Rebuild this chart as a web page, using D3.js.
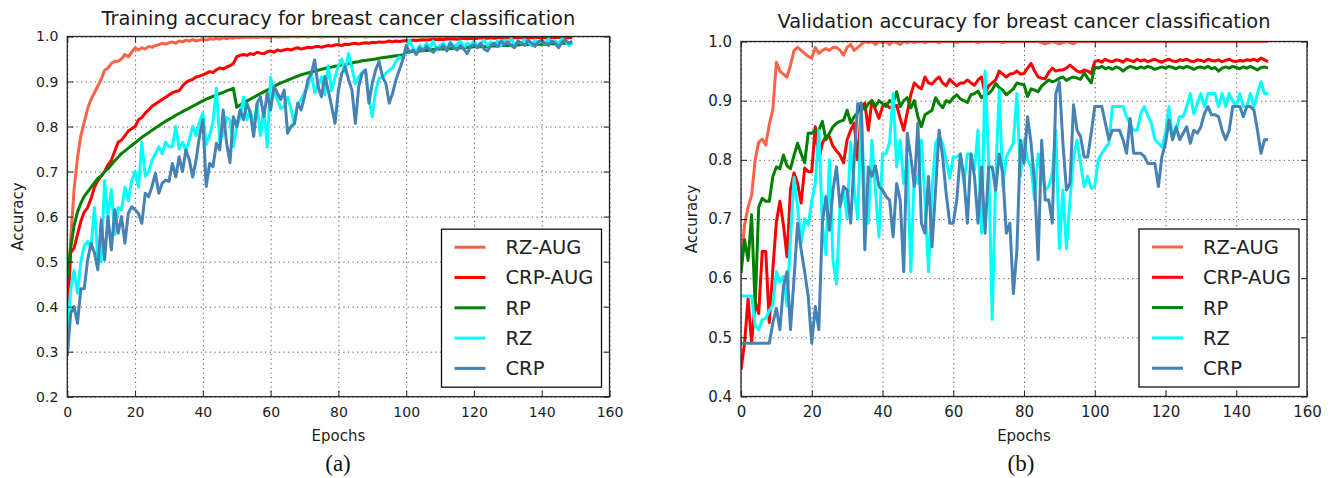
<!DOCTYPE html>
<html>
<head>
<meta charset="utf-8">
<script src="https://cdn.jsdelivr.net/npm/d3@7"></script>
<style>
  html, body { margin: 0; padding: 0; background: #fff; }
  svg { display: block; font-family: "DejaVu Sans", sans-serif; }
  .grid line { stroke: #555; stroke-width: 1; stroke-dasharray: 1.2, 3.4; }
  .grid .domain { display: none; }
  .axis .domain { display: none; }
  .axis line { stroke: #222; stroke-width: 1; }
  .axis text { fill: #222; font-family: "DejaVu Sans", sans-serif; }
</style>
</head>
<body>
<svg id="chart" width="1334" height="478"></svg>
<script>
/* ==========================================================================
   Training / validation accuracy, two panels, five runs each
   ========================================================================== */
const SERIES = ['RZ-AUG', 'CRP-AUG', 'RP', 'RZ', 'CRP'];
const COLORS = ['#ff6347', '#ff0000', '#008000', '#00ffff', '#4682b4'];
const X_TICKS = [0, 20, 40, 60, 80, 100, 120, 140, 160];
const Y_TICKS_TRAIN = [0.2, 0.3, 0.4, 0.5, 0.6, 0.7, 0.8, 0.9, 1.0];
const Y_TICKS_VAL = [0.4, 0.5, 0.6, 0.7, 0.8, 0.9, 1.0];

// ---- training accuracy, one value per epoch (0..149)
const trainRzAug = [
  0.40,0.55,0.66,0.73,0.78,0.81,0.84,0.86,0.875,0.89,
  0.905,0.925,0.93,0.94,0.945,0.945,0.95,0.96,0.955,0.965,
  0.975,0.97,0.975,0.972,0.978,0.976,0.98,0.982,0.985,0.983,
  0.986,0.988,0.985,0.99,0.988,0.992,0.99,0.993,0.99,0.992,
  0.994,0.992,0.995,0.994,0.996,0.994,0.997,0.995,0.997,0.996,
  0.998,0.997,0.998,0.999,0.998,0.999,0.998,0.999,0.999,0.998,
  0.999,1.0,0.999,0.999,1.0,0.999,1.0,1.0,0.999,1.0,
  1.0,0.999,1.0,1.0,1.0,0.999,1.0,1.0,1.0,1.0,
  1.0,1.0,0.999,1.0,1.0,1.0,1.0,1.0,0.999,1.0,
  1.0,1.0,1.0,1.0,1.0,1.0,1.0,1.0,1.0,1.0,
  1.0,1.0,1.0,1.0,1.0,1.0,1.0,1.0,1.0,1.0,
  1.0,1.0,1.0,1.0,1.0,1.0,1.0,1.0,1.0,1.0,
  1.0,1.0,1.0,1.0,1.0,1.0,1.0,1.0,1.0,1.0,
  1.0,1.0,1.0,1.0,1.0,1.0,1.0,1.0,1.0,1.0,
  1.0,1.0,1.0,1.0,1.0,1.0,1.0,1.0,1.0,1.0
];
const trainCrpAug = [
  0.37,0.52,0.53,0.56,0.59,0.61,0.62,0.64,0.665,0.68,
  0.69,0.70,0.715,0.725,0.745,0.765,0.77,0.78,0.79,0.795,
  0.80,0.815,0.82,0.83,0.837,0.845,0.85,0.855,0.86,0.865,
  0.87,0.875,0.878,0.88,0.89,0.898,0.902,0.905,0.91,0.912,
  0.915,0.918,0.922,0.92,0.926,0.93,0.928,0.932,0.935,0.94,
  0.955,0.958,0.96,0.958,0.962,0.96,0.965,0.963,0.962,0.966,
  0.968,0.965,0.97,0.968,0.97,0.972,0.97,0.973,0.975,0.972,
  0.974,0.976,0.975,0.977,0.978,0.976,0.978,0.98,0.979,0.981,
  0.982,0.98,0.983,0.982,0.984,0.985,0.983,0.985,0.986,0.985,
  0.987,0.986,0.988,0.987,0.988,0.99,0.988,0.99,0.989,0.99,
  0.991,0.99,0.992,0.991,0.992,0.993,0.992,0.993,0.994,0.993,
  0.994,0.993,0.995,0.994,0.995,0.994,0.995,0.996,0.995,0.996,
  0.995,0.996,0.997,0.996,0.996,0.997,0.996,0.997,0.997,0.996,
  0.997,0.997,0.998,0.997,0.997,0.998,0.997,0.998,0.997,0.998,
  0.998,0.997,0.998,0.998,0.997,0.998,0.998,0.998,0.997,0.998
];
const trainRp = [
  0.46,0.53,0.58,0.61,0.63,0.645,0.655,0.665,0.675,0.685,
  0.69,0.70,0.706,0.715,0.724,0.732,0.74,0.746,0.752,0.758,
  0.764,0.77,0.776,0.781,0.786,0.792,0.797,0.802,0.807,0.812,
  0.816,0.82,0.825,0.829,0.833,0.837,0.841,0.845,0.849,0.853,
  0.857,0.861,0.864,0.867,0.87,0.873,0.876,0.879,0.882,0.885,
  0.843,0.848,0.853,0.857,0.861,0.865,0.869,0.873,0.877,0.881,
  0.885,0.889,0.893,0.897,0.9,0.903,0.906,0.909,0.912,0.915,
  0.917,0.919,0.921,0.923,0.925,0.927,0.929,0.931,0.932,0.934,
  0.935,0.937,0.938,0.94,0.941,0.943,0.944,0.946,0.947,0.948,
  0.949,0.95,0.952,0.953,0.954,0.955,0.956,0.957,0.958,0.959,
  0.965,0.966,0.967,0.967,0.968,0.969,0.969,0.97,0.971,0.971,
  0.972,0.972,0.973,0.973,0.974,0.974,0.975,0.975,0.976,0.976,
  0.977,0.977,0.977,0.978,0.978,0.979,0.979,0.979,0.98,0.98,
  0.98,0.981,0.981,0.981,0.982,0.982,0.982,0.982,0.983,0.983,
  0.983,0.983,0.984,0.984,0.984,0.984,0.985,0.985,0.985,0.985
];
const trainRz = [
  0.33,0.44,0.48,0.43,0.50,0.535,0.545,0.53,0.62,0.51,
  0.50,0.68,0.60,0.66,0.56,0.62,0.615,0.665,0.635,0.68,
  0.70,0.665,0.765,0.69,0.70,0.725,0.74,0.755,0.74,0.765,
  0.755,0.755,0.80,0.75,0.765,0.745,0.77,0.80,0.78,0.81,
  0.83,0.76,0.78,0.81,0.885,0.765,0.785,0.82,0.815,0.755,
  0.80,0.82,0.865,0.815,0.835,0.80,0.85,0.78,0.84,0.755,
  0.91,0.875,0.86,0.84,0.845,0.865,0.84,0.805,0.85,0.86,
  0.875,0.89,0.92,0.875,0.89,0.91,0.87,0.935,0.88,0.91,
  0.935,0.95,0.92,0.962,0.93,0.895,0.91,0.92,0.925,0.865,
  0.822,0.88,0.907,0.91,0.918,0.925,0.93,0.945,0.955,0.95,
  0.975,0.992,0.975,0.965,0.98,0.97,0.985,0.975,0.99,0.97,
  0.98,0.985,0.972,0.988,0.978,0.982,0.99,0.975,0.985,0.98,
  0.99,0.978,0.985,0.992,0.98,0.988,0.983,0.99,0.98,0.992,
  0.985,0.995,0.982,0.99,0.985,0.993,0.988,0.98,0.992,0.986,
  0.99,0.984,0.995,0.988,0.99,0.985,0.995,0.99,0.98,0.985
];
const trainCrp = [
  0.29,0.385,0.40,0.363,0.44,0.44,0.504,0.54,0.52,0.482,
  0.593,0.504,0.60,0.526,0.615,0.563,0.60,0.541,0.607,0.622,
  0.615,0.607,0.585,0.652,0.644,0.667,0.696,0.652,0.674,0.681,
  0.678,0.718,0.688,0.733,0.70,0.748,0.726,0.688,0.726,0.778,
  0.815,0.667,0.718,0.711,0.763,0.748,0.837,0.763,0.72,0.822,
  0.80,0.837,0.815,0.852,0.83,0.778,0.852,0.866,0.822,0.874,
  0.837,0.889,0.874,0.86,0.881,0.785,0.80,0.807,0.852,0.837,
  0.866,0.904,0.918,0.948,0.889,0.866,0.911,0.881,0.845,0.807,
  0.881,0.918,0.933,0.904,0.881,0.807,0.889,0.918,0.926,0.852,
  0.896,0.926,0.945,0.911,0.896,0.852,0.874,0.904,0.926,0.948,
  0.98,0.965,0.97,0.96,0.975,0.968,0.978,0.97,0.965,0.975,
  0.972,0.98,0.968,0.985,0.975,0.97,0.98,0.972,0.962,0.978,
  0.982,0.975,0.985,0.972,0.968,0.98,0.985,0.978,0.99,0.982,
  0.988,0.98,0.975,0.99,0.985,0.98,0.992,0.985,0.978,0.988,
  0.992,0.985,0.98,0.99,0.985,0.975,0.988,0.992,0.985,0.99
];

// ---- validation accuracy, one value per epoch (0..149)
const valRzAug = [
  0.62,0.69,0.72,0.74,0.80,0.83,0.835,0.825,0.86,0.885,
  0.965,0.95,0.945,0.94,0.96,0.985,0.99,0.985,0.98,0.975,
  0.972,0.99,0.98,0.985,0.988,0.985,0.99,0.99,0.985,0.977,
  0.99,0.995,0.985,0.99,0.995,1.0,0.998,1.0,0.995,1.0,
  0.998,1.0,0.995,1.0,0.998,0.995,1.0,0.998,1.0,0.998,
  1.0,1.0,0.998,1.0,1.0,1.0,0.998,1.0,1.0,1.0,
  1.0,0.998,1.0,1.0,1.0,1.0,1.0,0.998,1.0,1.0,
  1.0,1.0,1.0,1.0,0.998,1.0,1.0,1.0,1.0,1.0,
  1.0,1.0,1.0,1.0,1.0,0.998,0.996,0.998,1.0,0.998,
  0.996,0.998,1.0,0.998,0.996,1.0,1.0,1.0,1.0,1.0,
  1.0,1.0,1.0,1.0,1.0,1.0,1.0,1.0,1.0,1.0,
  1.0,1.0,1.0,1.0,1.0,1.0,1.0,1.0,1.0,1.0,
  1.0,1.0,1.0,1.0,1.0,1.0,1.0,1.0,1.0,1.0,
  1.0,1.0,1.0,1.0,1.0,1.0,1.0,1.0,1.0,1.0,
  1.0,1.0,1.0,1.0,1.0,1.0,1.0,1.0,1.0,1.0
];
const valCrpAug = [
  0.445,0.49,0.565,0.49,0.56,0.54,0.645,0.645,0.525,0.615,
  0.695,0.73,0.69,0.636,0.75,0.778,0.76,0.727,0.786,0.78,
  0.78,0.856,0.80,0.828,0.84,0.839,0.823,0.815,0.808,0.795,
  0.834,0.85,0.862,0.80,0.884,0.896,0.85,0.90,0.885,0.87,
  0.89,0.895,0.888,0.89,0.892,0.87,0.85,0.88,0.91,0.93,
  0.924,0.92,0.94,0.93,0.928,0.935,0.94,0.93,0.925,0.936,
  0.93,0.925,0.93,0.93,0.935,0.93,0.926,0.935,0.94,0.912,
  0.925,0.93,0.935,0.95,0.945,0.94,0.945,0.946,0.95,0.945,
  0.946,0.955,0.963,0.95,0.94,0.938,0.937,0.948,0.955,0.95,
  0.952,0.952,0.955,0.96,0.955,0.95,0.948,0.952,0.95,0.946,
  0.966,0.968,0.965,0.97,0.967,0.966,0.969,0.968,0.965,0.97,
  0.968,0.966,0.97,0.967,0.969,0.966,0.968,0.97,0.967,0.965,
  0.968,0.97,0.967,0.966,0.969,0.968,0.97,0.967,0.966,0.969,
  0.968,0.966,0.97,0.968,0.967,0.969,0.966,0.968,0.97,0.967,
  0.966,0.968,0.967,0.969,0.968,0.97,0.967,0.972,0.969,0.966
];
const valRp = [
  0.608,0.665,0.63,0.707,0.552,0.72,0.735,0.73,0.73,0.772,
  0.788,0.785,0.808,0.79,0.785,0.808,0.828,0.81,0.795,0.845,
  0.845,0.85,0.85,0.865,0.834,0.845,0.856,0.862,0.865,0.867,
  0.884,0.862,0.873,0.88,0.895,0.885,0.895,0.9,0.89,0.9,
  0.895,0.89,0.9,0.897,0.915,0.89,0.9,0.905,0.888,0.9,
  0.873,0.856,0.876,0.88,0.884,0.905,0.895,0.888,0.9,0.897,
  0.905,0.91,0.903,0.9,0.897,0.91,0.912,0.916,0.905,0.91,
  0.912,0.918,0.929,0.922,0.918,0.91,0.915,0.92,0.93,0.928,
  0.927,0.907,0.92,0.918,0.915,0.925,0.93,0.935,0.932,0.934,
  0.938,0.94,0.934,0.938,0.94,0.938,0.936,0.947,0.938,0.93,
  0.957,0.955,0.958,0.954,0.956,0.953,0.957,0.955,0.95,0.955,
  0.958,0.956,0.954,0.957,0.955,0.958,0.956,0.953,0.955,0.957,
  0.955,0.958,0.956,0.954,0.957,0.955,0.958,0.956,0.953,0.956,
  0.957,0.955,0.958,0.954,0.956,0.95,0.955,0.957,0.955,0.958,
  0.956,0.954,0.957,0.955,0.958,0.955,0.952,0.956,0.957,0.955
];
const valRz = [
  0.57,0.57,0.57,0.57,0.52,0.513,0.53,0.532,0.545,0.555,
  0.611,0.594,0.603,0.553,0.67,0.77,0.72,0.66,0.70,0.69,
  0.73,0.76,0.85,0.69,0.64,0.80,0.63,0.59,0.72,0.75,
  0.70,0.83,0.75,0.70,0.88,0.73,0.693,0.833,0.749,0.67,
  0.81,0.81,0.83,0.912,0.788,0.833,0.76,0.80,0.611,0.777,
  0.76,0.833,0.732,0.611,0.749,0.828,0.839,0.828,0.80,0.769,
  0.805,0.805,0.81,0.76,0.81,0.81,0.783,0.85,0.676,0.95,
  0.80,0.53,0.77,0.918,0.755,0.805,0.817,0.828,0.912,0.772,
  0.833,0.80,0.788,0.732,0.81,0.783,0.749,0.755,0.777,0.85,
  0.65,0.749,0.65,0.732,0.805,0.833,0.794,0.755,0.772,0.752,
  0.755,0.80,0.811,0.82,0.828,0.89,0.89,0.89,0.89,0.873,
  0.86,0.85,0.85,0.878,0.89,0.875,0.862,0.834,0.828,0.822,
  0.845,0.89,0.834,0.85,0.873,0.873,0.89,0.912,0.878,0.895,
  0.912,0.89,0.912,0.912,0.912,0.89,0.912,0.89,0.912,0.9,
  0.89,0.912,0.89,0.89,0.912,0.89,0.912,0.932,0.912,0.912
];
const valCrp = [
  0.49,0.49,0.49,0.49,0.49,0.49,0.49,0.49,0.49,0.524,
  0.549,0.513,0.586,0.611,0.513,0.60,0.693,0.648,0.611,0.569,
  0.49,0.552,0.513,0.693,0.738,0.681,0.749,0.788,0.721,0.755,
  0.749,0.693,0.80,0.895,0.895,0.648,0.788,0.772,0.79,0.755,
  0.749,0.738,0.732,0.67,0.76,0.732,0.611,0.845,0.805,0.755,
  0.862,0.693,0.676,0.772,0.653,0.749,0.85,0.805,0.743,0.693,
  0.693,0.732,0.81,0.772,0.693,0.81,0.772,0.693,0.788,0.676,
  0.788,0.788,0.749,0.81,0.777,0.676,0.693,0.574,0.648,0.833,
  0.794,0.873,0.828,0.76,0.631,0.833,0.732,0.732,0.693,0.912,
  0.932,0.828,0.749,0.76,0.893,0.85,0.839,0.805,0.805,0.845,
  0.89,0.89,0.89,0.862,0.834,0.85,0.85,0.85,0.834,0.811,
  0.87,0.811,0.811,0.811,0.806,0.794,0.794,0.794,0.755,0.806,
  0.828,0.867,0.834,0.856,0.834,0.845,0.856,0.828,0.85,0.845,
  0.856,0.878,0.89,0.876,0.876,0.873,0.85,0.834,0.85,0.89,
  0.89,0.89,0.873,0.89,0.89,0.884,0.85,0.811,0.834,0.834
];

const PANELS = [
  {
    title: 'Training accuracy for breast cancer classification',
    caption: '(a)',
    series: [trainRzAug, trainCrpAug, trainRp, trainRz, trainCrp],
    yTicks: Y_TICKS_TRAIN,
    box: { left: 67.3, right: 609.5, top: 36.5, bottom: 396.7 },
    tickFont: 14, titleY: 25, captionX: 338
  },
  {
    title: 'Validation accuracy for breast cancer classification',
    caption: '(b)',
    series: [valRzAug, valCrpAug, valRp, valRz, valCrp],
    yTicks: Y_TICKS_VAL,
    box: { left: 741, right: 1307, top: 41.5, bottom: 396.5 },
    tickFont: 15, titleY: 28, captionX: 1021
  }
];

const svg = d3.select('#chart');

PANELS.forEach((p, pi) => {
  const b = p.box;
  const W = b.right - b.left, H = b.bottom - b.top;
  const x = d3.scaleLinear().domain([X_TICKS[0], X_TICKS[X_TICKS.length - 1]]).range([0, W]);
  const y = d3.scaleLinear().domain(d3.extent(p.yTicks)).range([H, 0]);
  const g = svg.append('g').attr('transform', `translate(${b.left},${b.top})`);

  // dotted grid
  g.append('g').attr('class', 'grid').attr('transform', `translate(0,${H})`)
    .call(d3.axisBottom(x).tickValues(X_TICKS).tickSize(-H).tickFormat(''));
  g.append('g').attr('class', 'grid')
    .call(d3.axisLeft(y).tickValues(p.yTicks).tickSize(-W).tickFormat(''));

  // lines, clipped to the axes box
  const clipId = 'clip' + pi;
  g.append('clipPath').attr('id', clipId).append('rect').attr('width', W).attr('height', H);
  const line = d3.line().x((d, i) => x(i)).y(d => y(d));
  const lines = g.append('g').attr('clip-path', `url(#${clipId})`);
  p.series.forEach((vals, si) => {
    lines.append('path').datum(vals)
      .attr('d', line)
      .attr('fill', 'none')
      .attr('stroke', COLORS[si])
      .attr('stroke-width', 3)
      .attr('stroke-linejoin', 'round');
  });

  // inward ticks on all four sides
  g.append('g').attr('class', 'axis').attr('transform', `translate(0,${H})`)
    .call(d3.axisBottom(x).tickValues(X_TICKS).tickSize(-6).tickPadding(10))
    .selectAll('text').style('font-size', p.tickFont + 'px');
  g.append('g').attr('class', 'axis')
    .call(d3.axisLeft(y).tickValues(p.yTicks).tickSize(-6).tickPadding(9).tickFormat(d3.format('.1f')))
    .selectAll('text').style('font-size', p.tickFont + 'px');
  g.append('g').attr('class', 'axis')
    .call(d3.axisTop(x).tickValues(X_TICKS).tickSize(-6).tickFormat(''));
  g.append('g').attr('class', 'axis').attr('transform', `translate(${W},0)`)
    .call(d3.axisRight(y).tickValues(p.yTicks).tickSize(-6).tickFormat(''));

  g.append('rect').attr('width', W).attr('height', H)
    .attr('fill', 'none').attr('stroke', '#222').attr('stroke-width', 1.3);

  // texts
  svg.append('text').attr('x', b.left + W / 2).attr('y', p.titleY)
    .attr('text-anchor', 'middle').style('font-size', '19.4px').attr('fill', '#1a1a1a').text(p.title);
  svg.append('text').attr('x', b.left + W / 2).attr('y', 441)
    .attr('text-anchor', 'middle').style('font-size', '15px').attr('fill', '#222').text('Epochs');
  svg.append('text')
    .attr('transform', `translate(${b.left - 44},${b.top + H / 2}) rotate(-90)`)
    .attr('text-anchor', 'middle').style('font-size', '15px').attr('fill', '#222').text('Accuracy');
  svg.append('text').attr('x', p.captionX).attr('y', 471)
    .attr('text-anchor', 'middle').style('font-family', '"Liberation Serif", serif')
    .style('font-size', '23px').attr('fill', '#111').text(p.caption);

  // legend
  const lw = 160, lh = 158;
  const lg = g.append('g').attr('transform', `translate(${W - 8 - lw},${H - 9.5 - lh})`);
  lg.append('rect').attr('width', lw).attr('height', lh)
    .attr('fill', '#fff').attr('stroke', '#111').attr('stroke-width', 1.3);
  SERIES.forEach((name, si) => {
    const cy = 18 + si * 30.3;
    lg.append('line').attr('x1', 13).attr('x2', 44).attr('y1', cy).attr('y2', cy)
      .attr('stroke', COLORS[si]).attr('stroke-width', 3);
    lg.append('text').attr('x', 64).attr('y', cy + 7)
      .style('font-size', '19.5px').attr('fill', '#222').text(name);
  });
});
</script>
</body>
</html>
